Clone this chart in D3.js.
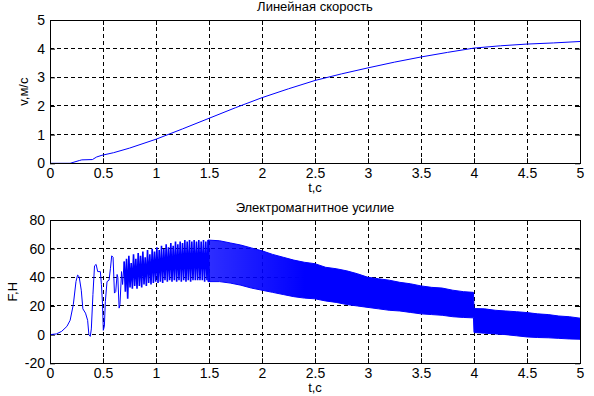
<!DOCTYPE html>
<meta charset="utf-8">
<script src="https://d3js.org/d3.v7.min.js"></script>
<style>
  body { margin: 0; background: #fff; }
  text { font-family: "Liberation Sans", Arial, sans-serif; fill: #000; }
</style>
<div id="chart"></div>
<script>

// ---- data ----
const xTicks = [0, 0.5, 1, 1.5, 2, 2.5, 3, 3.5, 4, 4.5, 5];
const vTicks = [0, 1, 2, 3, 4, 5];
const fTicks = [-20, 0, 20, 40, 60, 80];

// linear speed, m/s
const vTime = [0, 0.19, 0.28, 0.30, 0.40, 0.44, 0.49, 0.6, 0.75, 1.0, 1.25, 1.5, 1.75, 2.0, 2.25, 2.5, 2.75, 3.0, 3.25, 3.5, 3.75, 4.0, 4.25, 4.5, 4.75, 5.0];
const vValue = [0, 0, 0.1, 0.12, 0.13, 0.22, 0.28, 0.37, 0.53, 0.84, 1.2, 1.57, 1.94, 2.29, 2.6, 2.89, 3.12, 3.33, 3.53, 3.71, 3.87, 4.02, 4.1, 4.16, 4.2, 4.25];

// electromagnetic force, start-up transient
const fTime = [0, 0.06, 0.11, 0.16, 0.19, 0.22, 0.245, 0.26, 0.275, 0.295, 0.31, 0.335, 0.355, 0.367, 0.38, 0.39,
  0.405, 0.42, 0.435, 0.45, 0.475, 0.485, 0.495, 0.503, 0.513, 0.522, 0.538, 0.557, 0.57, 0.582, 0.595, 0.608,
  0.62, 0.633, 0.64, 0.652, 0.66, 0.675, 0.685, 0.700];
const fValue = [0, 0.5, 2.3, 5.8, 10, 21, 37, 41.5, 40.5, 31, 18, 15, 10, 0, -1.2, 4,
  28, 48, 49, 44, 44, 35, 22, 3, 6, 23, 37, 38, 46, 55, 54, 29,
  30, 42, 40, 18.5, 21, 44, 35, 51];

// electromagnetic force, individual swings (peak / trough)
const oscTime = [0.700, 0.711, 0.722, 0.733, 0.744, 0.755, 0.766, 0.777, 0.788, 0.799, 0.810, 0.821, 0.832, 0.843, 0.854, 0.865,
  0.876, 0.887, 0.898, 0.909, 0.920, 0.931, 0.942, 0.953, 0.964, 0.975, 0.986, 0.997, 1.008, 1.019, 1.030, 1.041,
  1.052, 1.063, 1.074, 1.085, 1.096, 1.107, 1.118, 1.129, 1.140, 1.151, 1.162, 1.173, 1.184, 1.195, 1.206, 1.217,
  1.228, 1.239, 1.250, 1.261, 1.272, 1.283, 1.294, 1.305, 1.316, 1.327, 1.338, 1.349, 1.360, 1.371, 1.382, 1.393,
  1.404, 1.415, 1.426, 1.437, 1.448, 1.459, 1.470, 1.481, 1.492, 1.503];
const oscValue = [51, 30, 53, 25, 55, 33, 50, 32, 56, 34, 53, 32, 57, 34, 55, 33,
  58, 35, 54, 34, 59, 36, 56, 35, 60, 36, 58, 37, 61, 36, 59, 37,
  62, 36, 60, 38, 63, 37, 61, 38, 64, 37, 62, 38, 65, 37, 63, 38,
  65, 37, 64, 38, 66, 37, 65, 38, 66, 37, 65, 38, 66, 38, 65, 38,
  66, 38, 65, 38, 66, 37, 65, 38, 66, 37];

// electromagnetic force, dense oscillation band (upper / lower envelope)
const bandTime = [1.49, 1.6, 1.7, 1.8, 1.9, 2.0, 2.1, 2.2, 2.3, 2.4, 2.5, 2.6, 2.7, 2.8, 2.9, 3.0, 3.1, 3.2, 3.3, 3.4, 3.5,
  3.6, 3.7, 3.8, 3.9, 3.995, 4.0, 4.1, 4.2, 4.3, 4.4, 4.5, 4.6, 4.7, 4.8, 4.9, 5.0];
const bandHigh = [66, 65.5, 64, 62.5, 60.5, 58.5, 56, 54, 52, 50.5, 49.5, 47, 46, 44.5, 42.5, 40, 39, 38, 36.5, 35.5, 34,
  33, 32.5, 31, 30, 29.5, 18.2, 18, 17, 16.5, 16, 15.4, 14.5, 14, 13, 12.5, 11.5];
const bandLow = [37, 37, 36, 34.5, 32.5, 31, 29.5, 28, 26.5, 25.5, 25, 23.5, 22.5, 21, 20, 19, 18, 17, 16.5, 15.5, 14.5,
  14, 13.5, 12.5, 12, 11.7, 1.5, 1, 0.5, 0, -0.8, -1.6, -2, -2.2, -2.6, -3, -3.2];

// ---- layout ----
const W = 594, H = 396;
const left = 50, right = 580;

const svg = d3.select("#chart")
  .append("svg")
  .attr("width", W)
  .attr("height", H);

const x = d3.scaleLinear().domain([0, 5]).range([left, right]);

function panel(top, bottom, yDomain, yTicks, title, yLabel, labelX, titleY, xLabelY) {
  const y = d3.scaleLinear().domain(yDomain).range([bottom, top]);
  const g = svg.append("g");

  // grid
  g.append("g").selectAll("line").data(xTicks).join("line")
    .attr("x1", d => x(d)).attr("x2", d => x(d))
    .attr("y1", top).attr("y2", bottom)
    .attr("stroke", "#000").attr("stroke-dasharray", "4,3").attr("shape-rendering", "crispEdges");
  g.append("g").selectAll("line").data(yTicks).join("line")
    .attr("x1", left).attr("x2", right)
    .attr("y1", d => y(d)).attr("y2", d => y(d))
    .attr("stroke", "#000").attr("stroke-dasharray", "4,3").attr("shape-rendering", "crispEdges");

  // axes with inside ticks
  g.append("g")
    .attr("transform", `translate(0,${bottom})`)
    .call(d3.axisBottom(x).tickValues(xTicks).tickFormat(d => String(d)).tickSizeInner(-5).tickSizeOuter(0).tickPadding(5))
    .call(a => a.select(".domain").remove())
    .call(a => a.selectAll("text").attr("font-size", 14).attr("font-family", "Liberation Sans, Arial, sans-serif"));
  g.append("g")
    .attr("transform", `translate(${left},0)`)
    .call(d3.axisLeft(y).tickValues(yTicks).tickFormat(d => String(d)).tickSizeInner(-5).tickSizeOuter(0).tickPadding(5))
    .call(a => a.select(".domain").remove())
    .call(a => a.selectAll("text").attr("font-size", 14).attr("font-family", "Liberation Sans, Arial, sans-serif"));
  g.append("g")
    .attr("transform", `translate(0,${top})`)
    .call(d3.axisTop(x).tickValues(xTicks).tickFormat("").tickSizeInner(-5).tickSizeOuter(0))
    .call(a => a.select(".domain").remove());
  g.append("g")
    .attr("transform", `translate(${right},0)`)
    .call(d3.axisRight(y).tickValues(yTicks).tickFormat("").tickSizeInner(-5).tickSizeOuter(0))
    .call(a => a.select(".domain").remove());

  // title and labels
  g.append("text")
    .attr("x", (left + right) / 2).attr("y", titleY)
    .attr("text-anchor", "middle").attr("font-size", 13)
    .text(title);
  g.append("text")
    .attr("x", (left + right) / 2).attr("y", xLabelY)
    .attr("text-anchor", "middle").attr("font-size", 13)
    .text("t,c");
  g.append("text")
    .attr("transform", `translate(${labelX},${(top + bottom) / 2}) rotate(-90)`)
    .attr("text-anchor", "middle").attr("font-size", 13)
    .text(yLabel);

  return {g, y, top, bottom};
}

const p1 = panel(20, 163.3, [0, 5], vTicks, "Линейная скорость", "v,м/с", 28, 11, 192);
const p2 = panel(220, 363.3, [-20, 80], fTicks, "Электромагнитное усилие", "F,H", 17, 212, 392);

// speed curve
p1.g.append("path")
  .datum(d3.zip(vTime, vValue))
  .attr("fill", "none")
  .attr("stroke", "#0000ff")
  .attr("stroke-width", 1)
  .attr("d", d3.line().x(d => x(d[0])).y(d => p1.y(d[1])));

// force: dense band, a little see-through where the swings are still separate
const grad = svg.append("defs").append("linearGradient")
  .attr("id", "bandFill")
  .attr("gradientUnits", "userSpaceOnUse")
  .attr("x1", x(1.5)).attr("x2", x(2.4)).attr("y1", 0).attr("y2", 0);
grad.append("stop").attr("offset", 0).attr("stop-color", "#0000ff").attr("stop-opacity", 0.82);
grad.append("stop").attr("offset", 1).attr("stop-color", "#0000ff").attr("stop-opacity", 1);

p2.g.append("path")
  .datum(d3.zip(bandTime, bandHigh, bandLow))
  .attr("fill", "url(#bandFill)")
  .attr("stroke", "#0000ff")
  .attr("stroke-width", 1)
  .attr("d", d3.area().x(d => x(d[0])).y0(d => p2.y(d[2])).y1(d => p2.y(d[1])));

// force: start-up transient
p2.g.append("path")
  .datum(d3.zip(fTime, fValue))
  .attr("fill", "none")
  .attr("stroke", "#0000ff")
  .attr("stroke-width", 1)
  .attr("d", d3.line().x(d => x(d[0])).y(d => p2.y(d[1])));

// force: swings
p2.g.append("path")
  .datum(d3.zip(oscTime, oscValue))
  .attr("fill", "none")
  .attr("stroke", "#0000ff")
  .attr("stroke-width", 1.6)
  .attr("d", d3.line().x(d => x(d[0])).y(d => p2.y(d[1])));

// boxes
[p1, p2].forEach(p => {
  p.g.append("rect")
    .attr("x", left).attr("y", p.top)
    .attr("width", right - left).attr("height", p.bottom - p.top)
    .attr("fill", "none").attr("stroke", "#000").attr("shape-rendering", "crispEdges");
});
</script>
